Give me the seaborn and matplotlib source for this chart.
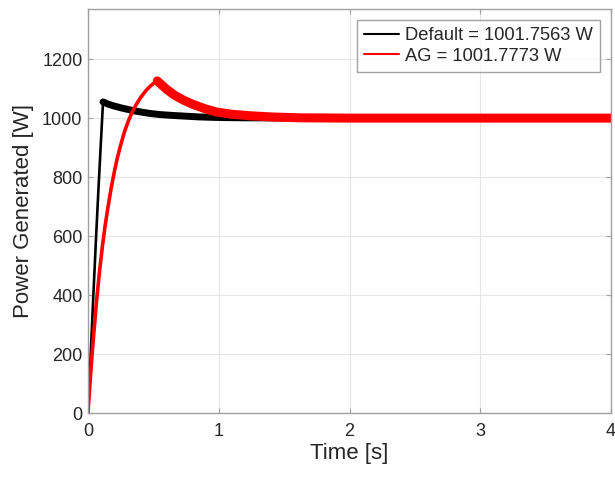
import matplotlib
matplotlib.use("Agg")
import matplotlib.pyplot as plt
import seaborn as sns
import pandas as pd

# Default controller response
t_default = [0, 0.02, 0.04, 0.06, 0.08, 0.10, 0.115, 0.15, 0.20, 0.25, 0.30, 0.35,
             0.40, 0.47, 0.55, 0.65, 0.73, 0.85, 1.00, 1.20, 1.50, 2.00, 3.00, 4.00]
p_default = [0, 190, 390, 580, 760, 930, 1055, 1048, 1041, 1035, 1030, 1025,
             1021, 1016, 1012, 1009, 1007, 1004, 1002, 1001, 1000.5, 1000, 1000, 1000]

# AG-tuned response
t_ag = [0, 0.01, 0.02, 0.03, 0.045, 0.066, 0.09, 0.112, 0.13, 0.15, 0.175, 0.20,
        0.225, 0.25, 0.28, 0.31, 0.34, 0.37, 0.40, 0.43, 0.455, 0.48, 0.505, 0.53,
        0.56, 0.60, 0.66, 0.73, 0.80, 0.90, 0.98, 1.10, 1.24, 1.40, 1.62, 2.00,
        3.00, 4.00]
p_ag = [0, 68, 131, 192, 274, 382, 488, 572, 632, 690, 757, 815,
        866, 909, 955, 992, 1022, 1047, 1068, 1086, 1099, 1110, 1119, 1126,
        1114, 1098, 1078, 1061, 1047, 1031, 1021, 1013, 1008, 1004, 1001, 1000,
        1000, 1000]

label_default = "Default = 1001.7563 W"
label_ag = "AG = 1001.7773 W"
peak_default = 1055
peak_ag = 1126

df_d = pd.DataFrame({"t": t_default, "p": p_default})
df_a = pd.DataFrame({"t": t_ag, "p": p_ag})
i_pd = p_default.index(peak_default)
i_pa = p_ag.index(peak_ag)

sns.set_style("white")
plt.rcParams["font.family"] = ["Liberation Sans", "DejaVu Sans"]

fig = plt.figure(figsize=(6.15, 4.79), dpi=100)
ax = fig.add_axes([88/615, 66/479, 523/615, 404/479])

sns.lineplot(data=df_d, x="t", y="p", color="black", linewidth=1.9, ax=ax,
             label=label_default, sort=False)
sns.lineplot(data=df_d.iloc[i_pd:], x="t", y="p", color="black", linewidth=5.0,
             ax=ax, legend=False, sort=False)
sns.lineplot(data=df_a, x="t", y="p", color="#ff0000", linewidth=2.6, ax=ax,
             label=label_ag, sort=False)
sns.lineplot(data=df_a.iloc[i_pa:], x="t", y="p", color="#ff0000", linewidth=6.5,
             ax=ax, legend=False, sort=False)

ax.set_xlim(0, 4)
ax.set_ylim(0, 1370)
ax.set_xticks([0, 1, 2, 3, 4])
ax.set_yticks([0, 200, 400, 600, 800, 1000, 1200])
ax.grid(True, color="#e6e6e6", linewidth=0.8)
ax.set_axisbelow(True)
for s in ax.spines.values():
    s.set_color("#a0a0a0")
    s.set_linewidth(1.0)
ax.tick_params(direction="in", length=3.5, width=0.8, color="#a0a0a0",
               labelsize=13, labelcolor="#262626", top=True, right=True,
               bottom=True, left=True)
ax.tick_params(axis="x", pad=7)
ax.tick_params(axis="y", pad=4)
ax.set_xlabel("Time [s]", fontsize=16, color="#262626", labelpad=2)
ax.set_ylabel("Power Generated [W]", fontsize=16, color="#262626", labelpad=6)

leg = ax.legend(loc="upper right", bbox_to_anchor=(0.979, 0.973), borderaxespad=0,
                fontsize=13.2, frameon=True, fancybox=False, handlelength=1.9,
                handletextpad=0.3, borderpad=0.4, labelspacing=0.2)
leg.get_frame().set_edgecolor("#8c8c8c")
leg.get_frame().set_linewidth(1.0)
for line in leg.get_lines():
    line.set_linewidth(1.5)

fig.savefig("out.png", dpi=100)
